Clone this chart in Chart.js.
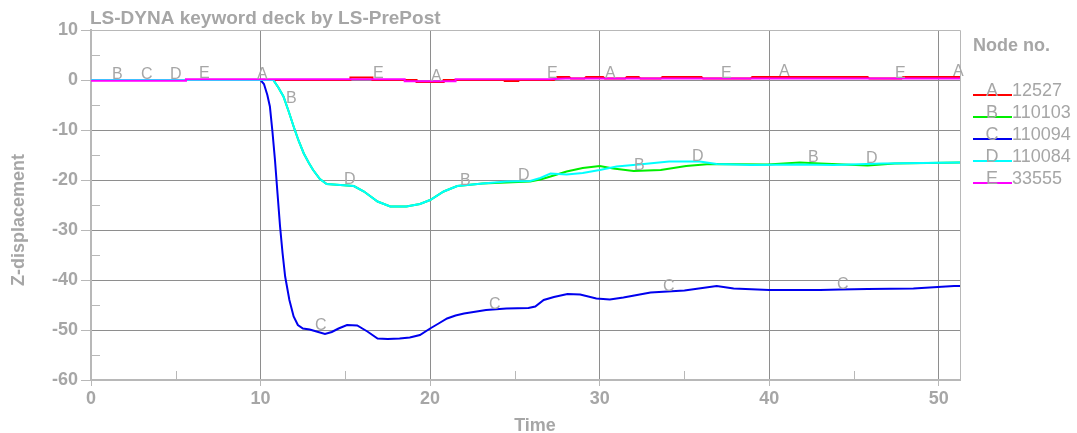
<!DOCTYPE html>
<html>
<head>
<meta charset="utf-8">
<script src="https://cdn.jsdelivr.net/npm/chart.js@4/dist/chart.umd.min.js"></script>
<style>
  html, body { margin: 0; padding: 0; background: #fff; }
  canvas { display: block; }
</style>
</head>
<body>
<canvas id="zChart" width="1077" height="433"></canvas>
<script>
// node numbers and curve letters
const letters = ['A', 'B', 'C', 'D', 'E'];
const nodeIds = ['12527', '110103', '110094', '110084', '33555'];
const colors = ['#ff0000', '#00ee00', '#0000ee', '#00ffff', '#ff00ff'];

// A - node 12527
const timeA = [0, 15.3, 15.3, 16.6, 16.6, 19.2, 19.2, 20.8, 20.8, 24.4, 24.4, 25.2, 25.2, 27.3, 27.5, 28.2, 28.3, 29.1, 29.2, 30.2, 30.3, 31.5, 31.6, 32.3, 32.4, 33.6, 33.7, 36, 36.1, 38.9, 39, 45.8, 45.9, 47.8, 47.9, 51.25];
const dispA = [0, 0, 0.5, 0.5, 0, 0, -0.4, -0.4, 0, 0, -0.2, -0.2, 0, 0, 0.6, 0.6, 0.3, 0.3, 0.6, 0.6, 0.3, 0.3, 0.6, 0.6, 0.3, 0.3, 0.6, 0.6, 0.3, 0.3, 0.6, 0.6, 0.3, 0.3, 0.6, 0.6];

// B - node 110103
const timeB = [0, 10.75, 11.05, 11.35, 11.65, 11.95, 12.25, 12.55, 12.85, 13.1, 13.5, 13.9, 14.7, 15.5, 16.1, 16.9, 17.65, 18.6, 19.4, 20, 20.8, 21.6, 23.1, 24.5, 25.9, 26.5, 27.1, 28.05, 29, 30, 30.8, 32, 33.6, 35.1, 36.5, 39.9, 41.8, 43, 45.8, 47.4, 51.25];
const dispB = [0, 0, -1.5, -3.3, -6.2, -9.3, -12.2, -14.7, -16.6, -18, -19.8, -20.8, -21, -21.2, -22.3, -24.3, -25.3, -25.3, -24.8, -24, -22.3, -21.2, -20.7, -20.5, -20.3, -19.9, -19.3, -18.3, -17.6, -17.2, -17.7, -18.2, -18, -17.2, -16.8, -16.9, -16.5, -16.7, -17.1, -16.7, -16.5];

// C - node 110094
const timeC = [0, 10, 10.2, 10.4, 10.55, 10.7, 10.85, 11, 11.15, 11.3, 11.45, 11.7, 11.95, 12.2, 12.5, 12.9, 13.3, 13.8, 14.2, 14.6, 15.1, 15.7, 16.3, 16.9, 17.5, 18.2, 18.8, 19.4, 20, 20.5, 21, 21.5, 22, 23.3, 24.5, 25.8, 26.2, 26.7, 27.3, 28.1, 28.85, 29.8, 30.6, 31.4, 33, 35, 36.9, 37.9, 40, 43, 44.2, 45.8, 48.5, 50.9, 51.25];
const dispC = [0, 0, -0.8, -3, -5.3, -10.3, -16, -22.7, -29.3, -34.7, -39.3, -44, -47.3, -49, -49.7, -49.9, -50.3, -50.8, -50.4, -49.7, -49, -49.1, -50.3, -51.7, -51.8, -51.7, -51.5, -51, -49.7, -48.7, -47.7, -47.1, -46.7, -46, -45.7, -45.6, -45.3, -44, -43.4, -42.8, -42.9, -43.7, -43.9, -43.5, -42.5, -42.1, -41.2, -41.7, -42, -42, -41.9, -41.8, -41.7, -41.2, -41.2];

// D - node 110084
const timeD = [0, 10.75, 11.05, 11.35, 11.65, 11.95, 12.25, 12.55, 12.85, 13.1, 13.5, 13.9, 14.7, 15.5, 16.1, 16.9, 17.65, 18.6, 19.4, 20, 20.8, 21.6, 23.1, 24.5, 25.9, 26.5, 27.1, 28.05, 29, 30, 31, 32.3, 34.1, 35.9, 36.9, 38.9, 41.8, 43.8, 46.7, 51.25];
const dispD = [0, 0, -1.5, -3.3, -6.2, -9.3, -12.2, -14.7, -16.6, -18, -19.8, -20.8, -21, -21.2, -22.3, -24.3, -25.3, -25.3, -24.8, -24, -22.3, -21.2, -20.7, -20.3, -20.2, -19.6, -18.7, -18.9, -18.6, -18, -17.3, -16.9, -16.3, -16.3, -16.8, -17, -16.9, -17, -16.7, -16.5];

// E - node 33555
const timeE = [0, 5.6, 5.6, 18.5, 18.5, 21.5, 21.5, 27, 28, 51.25];
const dispE = [-0.15, -0.15, 0.15, 0.15, -0.25, -0.25, 0.15, 0.15, 0.3, 0.3];

const xTicks = [0, 10, 20, 30, 40, 50];
const yTicks = [-60, -50, -40, -30, -20, -10, 0, 10];

const times = [timeA, timeB, timeC, timeD, timeE];
const disps = [dispA, dispB, dispC, dispD, dispE];

const textGray = '#a6a6a6';
const axisGray = '#b8b8b8';
const gridGray = '#8e8e8e';

const datasets = letters.map((l, i) => ({
  label: l + ' ' + nodeIds[i],
  data: times[i].map((t, j) => ({ x: t, y: disps[i][j] })),
  borderColor: colors[i],
  borderWidth: 2,
  pointRadius: 0,
  tension: 0,
  order: 4 - i
}));

function valueAt(data, t) {
  for (let j = 1; j < data.length; j++) {
    if (data[j].x >= t) {
      const a = data[j - 1], b = data[j];
      if (b.x === a.x) return b.y;
      return a.y + (b.y - a.y) * (t - a.x) / (b.x - a.x);
    }
  }
  return data[data.length - 1].y;
}

const decorPlugin = {
  id: 'decor',
  beforeDatasetsDraw(chart) {
    const ctx = chart.ctx, ca = chart.chartArea;
    const xs = chart.scales.x, ys = chart.scales.y;
    ctx.save();
    ctx.strokeStyle = axisGray;
    ctx.lineWidth = 1;
    // frame top/right
    ctx.beginPath();
    ctx.moveTo(ca.left, ca.top + 0.5);
    ctx.lineTo(ca.right + 0.5, ca.top + 0.5);
    ctx.lineTo(ca.right + 0.5, ca.bottom);
    ctx.stroke();
    // minor inward ticks
    ctx.beginPath();
    for (let v = 5; v < 51; v += 10) {
      const px = Math.round(xs.getPixelForValue(v)) + 0.5;
      ctx.moveTo(px, ca.bottom);
      ctx.lineTo(px, ca.bottom - 9);
    }
    for (let v = -55; v < 10; v += 10) {
      const py = Math.round(ys.getPixelForValue(v)) + 0.5;
      ctx.moveTo(ca.left, py);
      ctx.lineTo(ca.left + 9, py);
    }
    ctx.stroke();
    ctx.restore();
  },
  afterDatasetsDraw(chart) {
    const ctx = chart.ctx, ca = chart.chartArea;
    const xs = chart.scales.x, ys = chart.scales.y;
    ctx.save();
    // curve letters
    ctx.fillStyle = textGray;
    ctx.font = '16px "Liberation Sans", Arial, sans-serif';
    ctx.textAlign = 'left';
    ctx.textBaseline = 'alphabetic';
    const period = 10.26;
    chart.data.datasets.forEach((ds, i) => {
      const base = -0.47 + i * 1.71;
      for (let k = 0; k < 6; k++) {
        const t = base + k * period;
        if (t < 0.5 || t > 51.25) continue;
        const v = valueAt(ds.data, t);
        ctx.fillText(letters[i], xs.getPixelForValue(t), ys.getPixelForValue(v) - 1);
      }
    });

    // title
    ctx.font = 'bold 19px "Liberation Sans", Arial, sans-serif';
    ctx.textBaseline = 'middle';
    ctx.fillText('LS-DYNA keyword deck by LS-PrePost', ca.left - 1, 19);

    // axis titles
    ctx.font = 'bold 18px "Liberation Sans", Arial, sans-serif';
    ctx.textAlign = 'center';
    ctx.fillText('Time', 535, 426);
    ctx.save();
    ctx.translate(19, 220);
    ctx.rotate(-Math.PI / 2);
    ctx.fillText('Z-displacement', 0, 0);
    ctx.restore();

    // legend
    const lx = 973;
    ctx.textAlign = 'left';
    ctx.fillText('Node no.', lx, 46);
    chart.data.datasets.forEach((ds, i) => {
      const ly = 95 + i * 22;
      ctx.strokeStyle = colors[i];
      ctx.lineWidth = 2;
      ctx.beginPath();
      ctx.moveTo(lx, ly);
      ctx.lineTo(lx + 39, ly);
      ctx.stroke();
      ctx.font = '18px "Liberation Sans", Arial, sans-serif';
      ctx.textAlign = 'center';
      ctx.textBaseline = 'alphabetic';
      ctx.fillText(letters[i], lx + 19, ly + 1);
      ctx.textAlign = 'left';
      ctx.fillText(nodeIds[i], lx + 39, ly + 1);
    });
    ctx.restore();
  }
};

new Chart(document.getElementById('zChart').getContext('2d'), {
  type: 'line',
  data: { datasets: datasets },
  options: {
    responsive: false,
    animation: false,
    layout: { padding: { top: 30, right: 117, left: 0, bottom: 0 } },
    plugins: { legend: { display: false }, tooltip: { enabled: false }, title: { display: false } },
    scales: {
      x: {
        type: 'linear',
        min: 0,
        max: 51.25,
        afterFit(s) { s.height = 53; },
        afterBuildTicks(s) { s.ticks = xTicks.map(v => ({ value: v })); },
        ticks: {
          color: textGray,
          padding: 2,
          maxRotation: 0,
          font: { family: '"Liberation Sans", Arial, sans-serif', size: 18, weight: 'bold' }
        },
        grid: {
          color: ctx => ctx.tick && ctx.tick.value === 0 ? axisGray : gridGray,
          tickColor: axisGray,
          tickLength: 6,
          lineWidth: 1
        },
        border: { color: axisGray, width: 2 }
      },
      y: {
        type: 'linear',
        min: -60,
        max: 10,
        afterFit(s) { s.width = 91; },
        afterBuildTicks(s) { s.ticks = yTicks.map(v => ({ value: v })); },
        ticks: {
          color: textGray,
          padding: 3,
          font: { family: '"Liberation Sans", Arial, sans-serif', size: 18, weight: 'bold' }
        },
        grid: {
          color: ctx => ctx.tick && (ctx.tick.value === 10 || ctx.tick.value === -60) ? axisGray : gridGray,
          tickColor: axisGray,
          tickLength: 10,
          lineWidth: 1
        },
        border: { color: axisGray, width: 2 }
      }
    }
  },
  plugins: [decorPlugin]
});
</script>
</body>
</html>
